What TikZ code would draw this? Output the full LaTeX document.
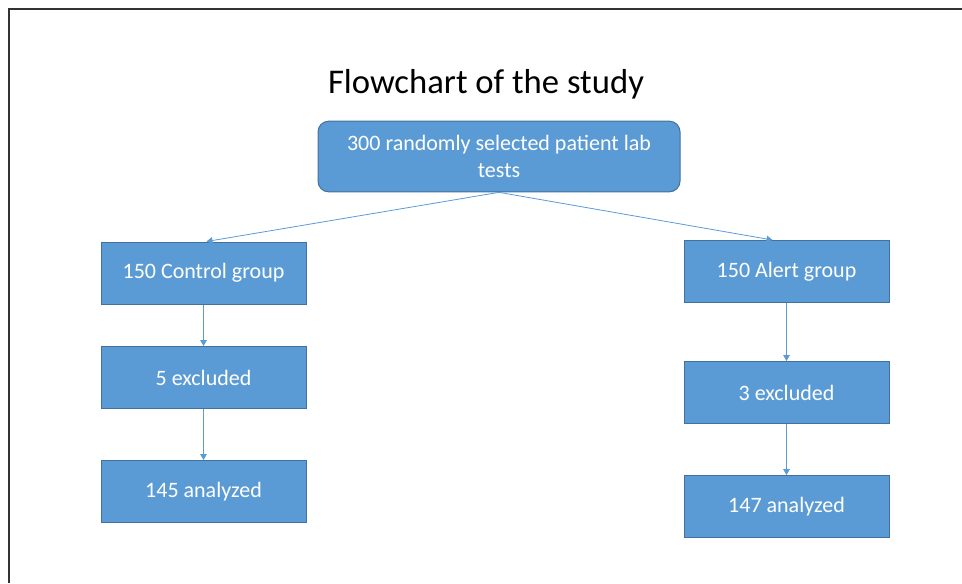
\documentclass[tikz,border=0pt]{standalone}
\usepackage{fontspec}
\setmainfont{Carlito}
\usetikzlibrary{arrows.meta,positioning,calc}
\definecolor{boxfill}{HTML}{5B9BD5}
\definecolor{boxline}{HTML}{41719C}
\definecolor{arrowc}{HTML}{5B9BD5}
\definecolor{framec}{HTML}{333333}
\tikzset{
  stepbox/.style={rectangle, fill=boxfill, draw=boxline, line width=0.75pt,
    minimum width=153.75pt, minimum height=46.5pt, text=white,
    font=\fontsize{16.5pt}{20pt}\selectfont, inner sep=0pt},
  topbox/.style={stepbox, rounded corners=8pt, minimum width=271.5pt, minimum height=53pt,
    align=center},
  conn/.style={draw=arrowc, line width=0.6pt, -{Triangle[width=5pt,length=4.5pt]}}
}
\begin{document}
\begin{tikzpicture}[x=0.75pt,y=-0.75pt]
\useasboundingbox (0,0) rectangle (962,583);
\draw[framec, line width=1.5pt] (9,583) -- (9,9) -- (962,9);
\node[font=\fontsize{26pt}{30pt}\selectfont] (title) at (486,84.5) {Flowchart of the study};
\node[topbox] (top) at (499,156.5) {300 randomly selected patient lab\\tests};
\node[stepbox] (ctl) at (203.5,273) {150 Control group};
\node[stepbox] (ex5) at (203.5,377.5) {5 excluded};
\node[stepbox] (an145) at (203.5,491.5) {145 analyzed};
\node[stepbox] (alr) at (786.5,271.5) {150 Alert group};
\node[stepbox] (ex3) at (786.5,392.5) {3 excluded};
\node[stepbox] (an147) at (786.5,506.5) {147 analyzed};
\draw[conn] (top.south) -- ($(ctl.north)+(3,0)$);
\draw[conn] (top.south) -- ($(alr.north)+(-14,0)$);
\draw[conn] (ctl) -- (ex5);
\draw[conn] (ex5) -- (an145);
\draw[conn] (alr) -- (ex3);
\draw[conn] (ex3) -- (an147);
\end{tikzpicture}
\end{document}
